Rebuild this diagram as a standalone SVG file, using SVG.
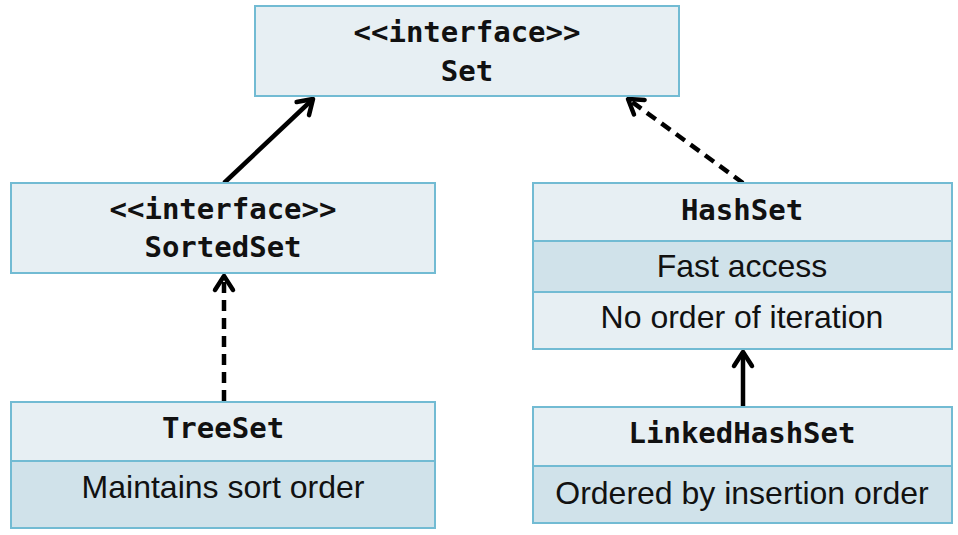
<svg xmlns="http://www.w3.org/2000/svg" width="958" height="535" viewBox="0 0 958 535">
<style>
.box{stroke:#72BBD3;stroke-width:2}
.l{fill:#E7EFF3}
.d{fill:#D0E2EA}
.m{font-family:"DejaVu Sans Mono","Liberation Mono",monospace;font-weight:bold;font-size:29px;fill:#111;text-anchor:middle}
.s{font-family:"Liberation Sans",Arial,sans-serif;font-size:32px;fill:#111;text-anchor:middle}
.c{stroke:#000;stroke-width:4.5;fill:none}
.dash{stroke-dasharray:11 7}
</style>
<defs>
<marker id="arr" markerUnits="userSpaceOnUse" markerWidth="30" markerHeight="30" viewBox="-20 -15 30 30" refX="0" refY="0" orient="auto">
<path d="M -14 -9 L 0 0 L -14 9" fill="none" stroke="#000" stroke-width="4.5" stroke-linecap="round" stroke-linejoin="round"/>
</marker>
</defs>
<g id="connectors">
<line class="c" x1="224" y1="183" x2="313" y2="99" marker-end="url(#arr)"/>
<line class="c dash" x1="743" y1="183" x2="628" y2="99" marker-end="url(#arr)"/>
<line class="c dash" x1="224" y1="401" x2="224" y2="276" marker-end="url(#arr)"/>
<line class="c" x1="743" y1="406" x2="743" y2="352" marker-end="url(#arr)"/>
</g>
<g id="Set">
<rect class="box l" x="255" y="6" width="424" height="90"/>
<text class="m" x="467" y="42">&lt;&lt;interface&gt;&gt;</text>
<text class="m" x="467" y="81">Set</text>
</g>
<g id="SortedSet">
<rect class="box l" x="11" y="183" width="424" height="90"/>
<text class="m" x="223" y="219">&lt;&lt;interface&gt;&gt;</text>
<text class="m" x="223" y="257">SortedSet</text>
</g>
<g id="HashSet">
<rect class="box l" x="533" y="183" width="419" height="58"/>
<rect class="box d" x="533" y="241" width="419" height="51"/>
<rect class="box l" x="533" y="292" width="419" height="57"/>
<text class="m" x="742" y="220">HashSet</text>
<text class="s" x="742" y="277">Fast access</text>
<text class="s" x="742" y="328">No order of iteration</text>
</g>
<g id="TreeSet">
<rect class="box l" x="11" y="402" width="424" height="59"/>
<rect class="box d" x="11" y="461" width="424" height="67"/>
<text class="m" x="223" y="438">TreeSet</text>
<text class="s" x="223" y="498">Maintains sort order</text>
</g>
<g id="LinkedHashSet">
<rect class="box l" x="533" y="407" width="419" height="59"/>
<rect class="box d" x="533" y="466" width="419" height="57"/>
<text class="m" x="742" y="443">LinkedHashSet</text>
<text class="s" x="742" y="504">Ordered by insertion order</text>
</g>
</svg>
